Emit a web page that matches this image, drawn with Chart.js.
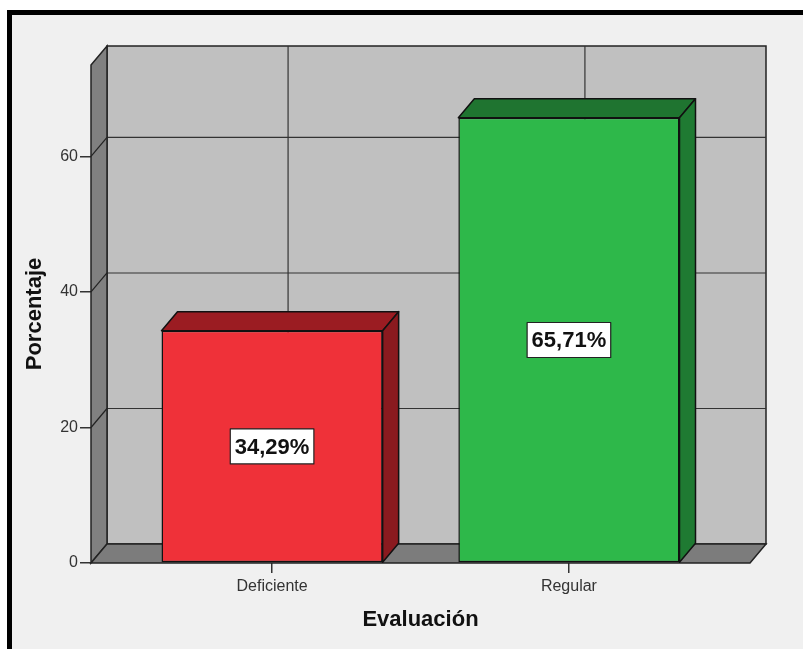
<!DOCTYPE html>
<html>
<head>
<meta charset="utf-8">
<title>Evaluación</title>
<script src="https://cdn.jsdelivr.net/npm/chart.js@4.4.1/dist/chart.umd.min.js"></script>
<style>
  body { margin: 0; background: #fff; }
  .frame {
    position: absolute; left: 7px; top: 10px; width: 820px; height: 660px;
    border-top: 5px solid #000; border-left: 5px solid #000; background: #f0f0f0;
  }
  #chart { position: absolute; left: 0; top: 0; }
</style>
</head>
<body>
<div class="frame"></div>
<canvas id="chart" width="803" height="649"></canvas>
<script>
// data
const categories = ['Deficiente', 'Regular'];
const percentages = [34.29, 65.71];
const yTicks = [0, 20, 40, 60];
const yMax = 73.5;

// bar colours: front, top and side faces
const frontColors = ['#ef3139', '#2eb84a'];
const topColors = ['#9b1c22', '#1f7430'];
const sideColors = ['#8a1a1f', '#1f7a32'];

// depth of the 3d box
const dx = 16;
const dy = -19;
const lineColor = '#222';

function shape(ctx, pts, fill) {
    ctx.beginPath();
    ctx.moveTo(pts[0][0], pts[0][1]);
    pts.slice(1).forEach(p => ctx.lineTo(p[0], p[1]));
    ctx.closePath();
    if (fill) {
        ctx.fillStyle = fill;
        ctx.fill();
    }
    ctx.stroke();
}

function line(ctx, x1, y1, x2, y2) {
    ctx.beginPath();
    ctx.moveTo(x1, y1);
    ctx.lineTo(x2, y2);
    ctx.stroke();
}

// walls, floor and grid behind the bars
const boxPlugin = {
    id: 'box3d',
    beforeDatasetsDraw(chart) {
        const { ctx, chartArea, scales } = chart;
        const { left, right, top, bottom } = chartArea;
        ctx.save();
        ctx.strokeStyle = lineColor;
        ctx.lineWidth = 1.5;

        // back wall
        shape(ctx, [[left + dx, top + dy], [right + dx, top + dy], [right + dx, bottom + dy], [left + dx, bottom + dy]], '#c0c0c0');

        // grid lines
        ctx.lineWidth = 1.2;
        ctx.strokeStyle = '#333';
        yTicks.forEach(v => {
            if (v === 0) return;
            const py = scales.y.getPixelForValue(v);
            line(ctx, left + dx, py + dy, right + dx, py + dy);
        });
        categories.forEach((c, i) => {
            const px = scales.x.getPixelForValue(i);
            line(ctx, px + dx, top + dy, px + dx, bottom + dy);
        });

        // left wall and floor
        ctx.lineWidth = 1.5;
        ctx.strokeStyle = lineColor;
        shape(ctx, [[left, top], [left + dx, top + dy], [left + dx, bottom + dy], [left, bottom]], '#808080');
        shape(ctx, [[left, bottom], [left + dx, bottom + dy], [right + dx, bottom + dy], [right, bottom]], '#7c7c7c');

        // tick lines running across the left wall
        ctx.lineWidth = 1.2;
        yTicks.forEach(v => {
            if (v === 0) return;
            const py = scales.y.getPixelForValue(v);
            line(ctx, left, py, left + dx, py + dy);
        });
        ctx.restore();
    },

    // top and side faces of the bars, then the value boxes
    afterDatasetsDraw(chart) {
        const { ctx } = chart;
        const bars = chart.getDatasetMeta(0).data;
        ctx.save();
        ctx.strokeStyle = '#111';
        ctx.lineWidth = 1.5;
        ctx.lineJoin = 'round';
        bars.forEach((bar, i) => {
            const { x, y, base, width } = bar.getProps(['x', 'y', 'base', 'width'], true);
            const x0 = x - width / 2;
            const x1 = x + width / 2;
            shape(ctx, [[x0, y], [x0 + dx, y + dy], [x1 + dx, y + dy], [x1, y]], topColors[i]);
            shape(ctx, [[x1, y], [x1 + dx, y + dy], [x1 + dx, base + dy], [x1, base]], sideColors[i]);
        });

        ctx.font = 'bold 22px "Liberation Sans", Arial, sans-serif';
        ctx.textAlign = 'center';
        ctx.textBaseline = 'middle';
        bars.forEach((bar, i) => {
            const { x, y, base } = bar.getProps(['x', 'y', 'base'], true);
            const text = percentages[i].toFixed(2).replace('.', ',') + '%';
            const cy = (y + base) / 2;
            const w = ctx.measureText(text).width + 9;
            const h = 35;
            ctx.fillStyle = '#fff';
            ctx.fillRect(x - w / 2, cy - h / 2, w, h);
            ctx.strokeStyle = '#222';
            ctx.lineWidth = 1.2;
            ctx.strokeRect(x - w / 2, cy - h / 2, w, h);
            ctx.fillStyle = '#111';
            ctx.fillText(text, x, cy + 1);
        });
        ctx.restore();
    }
};

const axisFont = { family: '"Liberation Sans", Arial, sans-serif', size: 16 };
const titleFont = { family: '"Liberation Sans", Arial, sans-serif', size: 22, weight: 'bold' };

new Chart(document.getElementById('chart'), {
    type: 'bar',
    data: {
        datasets: [{
            data: categories.map((c, i) => ({ x: i, y: percentages[i] })),
            backgroundColor: frontColors,
            borderColor: '#111',
            borderWidth: 1.5,
            borderSkipped: false,
            categoryPercentage: 1,
            barPercentage: 0.745
        }]
    },
    options: {
        responsive: false,
        animation: false,
        layout: { padding: { top: 65, right: 53, left: 0, bottom: 0 } },
        plugins: {
            legend: { display: false },
            tooltip: { enabled: false }
        },
        scales: {
            x: {
                type: 'linear',
                min: -0.61,
                max: 1.61,
                offset: false,
                afterBuildTicks: scale => {
                    scale.ticks = categories.map((c, i) => ({ value: i }));
                },
                afterFit: scale => { scale.height = 86; },
                ticks: {
                    color: '#333',
                    font: axisFont,
                    padding: 4,
                    callback: v => categories[v]
                },
                grid: { offset: false, drawOnChartArea: false, drawTicks: true, tickLength: 10, color: '#333', lineWidth: 1.5 },
                border: { display: false },
                title: {
                    display: true,
                    text: 'Evaluación',
                    color: '#111',
                    font: titleFont,
                    padding: { top: 0, bottom: 16 }
                }
            },
            y: {
                min: 0,
                max: yMax,
                afterBuildTicks: scale => {
                    scale.ticks = yTicks.map(v => ({ value: v }));
                },
                afterFit: scale => { scale.width = 91; },
                ticks: { color: '#333', font: axisFont, padding: 2 },
                grid: { drawOnChartArea: false, drawTicks: true, tickLength: 11, color: '#333', lineWidth: 1.5 },
                border: { display: false },
                title: {
                    display: true,
                    text: 'Porcentaje',
                    color: '#111',
                    font: titleFont,
                    padding: { top: 22, bottom: 0 }
                }
            }
        }
    },
    plugins: [boxPlugin]
});
</script>
</body>
</html>
